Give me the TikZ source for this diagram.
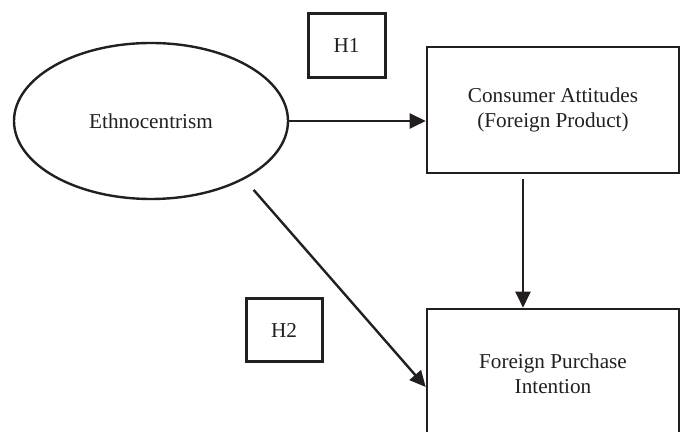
\documentclass[tikz,border=0pt]{standalone}
\usepackage{fontspec}
\setmainfont{Liberation Serif}
\usetikzlibrary{arrows.meta, shapes.geometric}
\definecolor{cink}{HTML}{231F20}
\tikzset{
  every picture/.style={line width=1.2pt, draw=cink, text=cink},
  box/.style={draw=cink, rectangle, align=center, inner sep=0pt, minimum width=126pt, line width=1.3pt},
  hyp/.style={draw=cink, rectangle, line width=1.5pt, inner sep=0pt, minimum width=38.5pt, minimum height=32pt},
  arrow/.style={-{Triangle[length=8pt, width=7.5pt]}, draw=cink, fill=cink, line width=1.2pt},
}
\begin{document}
\begin{tikzpicture}[x=0.5pt, y=-0.5pt, font=\fontsize{10.6pt}{12.5pt}\selectfont]
  \useasboundingbox (0,0) rectangle (686,432);
  \clip (0,0) rectangle (686,432);
  \node[draw=cink, ellipse, inner sep=0pt, minimum width=137pt, minimum height=78pt] (ethno) at (151,121) {Ethnocentrism};
  \node[hyp] (h1) at (346.5,46) {H1};
  \node[box, minimum height=63pt] (attit) at (553,110) {Consumer Attitudes\\(Foreign Product)};
  \node[box, minimum height=65pt] (purch) at (553,374) {Foreign Purchase\\Intention};
  \node[hyp, minimum width=38pt, minimum height=31.5pt] (h2) at (284,330.5) {H2};
  \draw[arrow] (ethno.east) -- (ethno.east -| attit.west);
  \draw[arrow, shorten <=2.5pt] ([xshift=-15pt]attit.south) -- ([xshift=-15pt]purch.north);
  \draw[arrow, shorten <=7pt] (ethno.-32.5) -- ([yshift=-6.5pt]purch.west);
\end{tikzpicture}
\end{document}
